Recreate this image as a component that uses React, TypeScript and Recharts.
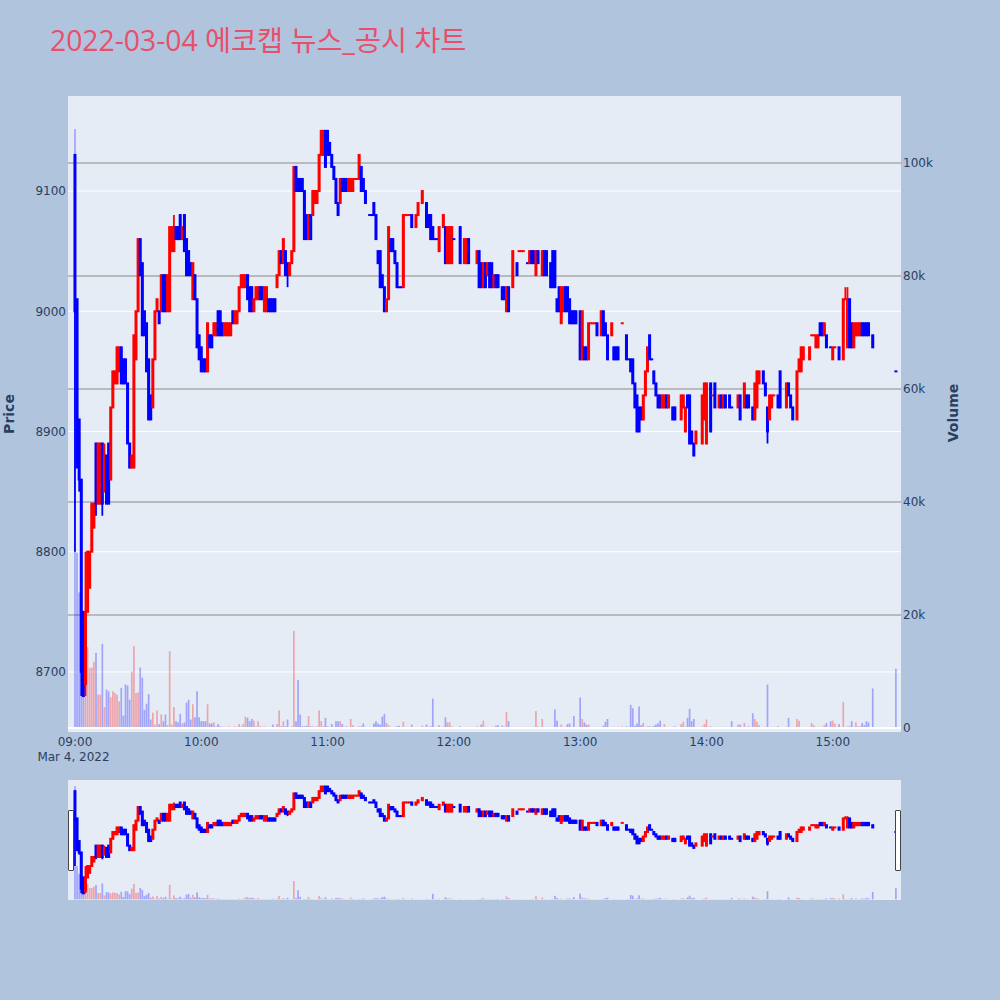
import React from "react";
import { ComposedChart, Bar, XAxis, YAxis, CartesianGrid, ReferenceLine } from "recharts";

const _ = null;

// minute index from 09:00 (0..390); null = no trade in that minute
const OPEN: (number | null)[] = [
  9130,9010,8910,8860,8750,8690,8750,8770,8800,8820,
  8890,8840,8840,8890,8850,8880,8890,8860,8920,8940,
  8940,8950,8970,8960,8960,8940,8890,8870,8870,8960,
  9000,9060,9040,9000,8990,8960,8930,8920,8960,9000,
  9000,9000,9030,9030,9000,9000,9050,9050,9070,9070,
  9080,9060,9080,9060,9050,9040,9010,9030,9010,8980,
  8970,8960,8960,8950,8980,8980,8980,8980,9000,9000,
  8990,8980,8980,8980,8980,9000,8990,8990,9000,9020,
  9020,9020,9030,9020,9020,9000,9010,9010,9020,9020,
  9000,9000,9010,9010,9010,9010,9020,9030,9050,9040,
  9050,9040,9030,9040,9050,9120,9110,9110,9110,9100,
  9080,9060,9080,9080,9090,9090,9100,9130,9130,9150,
  9150,9140,9130,9120,9110,9090,9090,9110,9110,9110,
  9100,9100,9100,9110,9110,9110,9120,9110,9100,_,
  9080,9080,9090,9080,9050,9050,9030,9020,9000,9010,
  9060,9060,9050,9040,9020,9020,9020,9080,9080,9080,
  9080,_,9070,9080,_,9090,_,9090,9080,9080,
  9070,9060,9060,9050,_,9070,9070,9040,9040,9040,
  9060,_,_,9070,_,9040,9040,9060,_,_,
  _,9040,9050,9040,9020,9040,9030,9040,9040,9020,
  9030,9030,_,9020,9020,9000,9020,_,9020,_,
  9040,9050,9050,9050,_,9040,9040,9050,9050,9030,
  9050,_,9030,9050,9050,_,9040,9050,9050,9010,
  9020,8990,9000,9020,9020,9010,9000,9000,9000,_,
  9000,8960,8970,8970,8960,8990,8990,8990,8990,_,
  8980,9000,8990,8980,_,8980,8970,8970,8970,_,
  8990,_,8980,8960,8960,8960,8940,8930,8920,8920,
  8910,8930,8950,8980,8960,8950,8940,8930,8930,8920,
  8920,8930,8920,_,8920,8920,_,_,8910,8920,
  8900,8930,8930,8900,8890,8890,_,_,8890,8910,
  8890,_,8940,8930,8940,_,8920,8930,8920,8930,
  _,8930,8920,_,_,8920,8930,_,8920,8930,
  8930,_,8920,8910,8920,8940,_,8950,8940,8920,
  8910,8920,8930,_,8930,8950,_,_,8920,8940,
  8930,8920,_,8910,8950,8950,8960,_,_,8960,
  8980,8980,8970,8970,8990,8990,8980,8980,_,8970,
  8960,8970,_,8970,_,8960,9010,8970,9010,8990,
  8970,8980,8980,8980,8990,8990,8990,8990,_,8980,
  _,_,_,_,_,_,_,_,_,_,
  8950,
];

const CLOSE: (number | null)[] = [
  9000,8870,8860,8700,8680,8750,8800,8800,8840,8840,
  8840,8890,8890,8840,8880,8840,8840,8920,8950,8950,
  8970,8970,8940,8940,8940,8890,8870,8880,8980,9000,
  9060,9030,8980,8980,8950,8910,8910,8960,9000,9010,
  8990,9030,9000,9000,9030,9070,9070,9070,9060,9060,
  9060,9070,9050,9030,9030,9030,9040,9010,8970,8960,
  8950,8950,8950,8990,8970,8970,8990,8990,8980,8980,
  8980,8990,8990,8990,8990,8990,9000,9000,9020,9030,
  9030,9030,9010,9000,9000,9010,9020,9020,9010,9010,
  9020,9020,9000,9000,9000,9000,9030,9050,9040,9060,
  9030,9030,9040,9050,9120,9100,9100,9100,9100,9060,
  9060,9080,9060,9100,9100,9100,9130,9150,9150,9120,
  9130,9130,9120,9110,9090,9080,9110,9100,9100,9100,
  9110,9110,9110,9110,9110,9130,9100,9100,9090,_,
  9080,9080,9080,9060,9040,9020,9020,9000,9010,9070,
  9050,9050,9040,9020,9020,9020,9080,9080,9080,9080,
  9070,_,9080,9090,_,9100,_,9070,9070,9060,
  9060,9060,9060,9070,_,9080,9040,9070,9070,9070,
  9060,_,_,9040,_,9060,9060,9040,_,_,
  _,9050,9020,9020,9040,9020,9040,9020,9020,9030,
  9020,9020,_,9010,9010,9020,9000,_,9050,_,
  9030,9050,9050,9050,_,9040,9050,9040,9040,9050,
  9040,_,9050,9030,9030,_,9020,9020,9020,9000,
  9000,9020,9020,9000,9000,8990,8990,8990,8990,_,
  8960,9000,8960,8960,8990,8990,8990,8990,8980,_,
  9000,8980,8980,8960,_,8990,8960,8960,8960,_,
  8990,_,8960,8960,8950,8940,8920,8900,8900,8910,
  8930,8950,8970,8960,8960,8940,8930,8920,8920,8930,
  8930,8920,8930,_,8910,8910,_,_,8930,8930,
  8920,8920,8890,8890,8880,8900,_,_,8930,8940,
  8940,_,8900,8930,8920,_,8930,8920,8930,8920,
  _,8920,8920,_,_,8930,8910,_,8940,8920,
  8920,_,8910,8940,8950,8950,_,8940,8930,8900,
  8930,8930,8930,_,8920,8920,_,_,8940,8930,
  8920,8910,_,8950,8960,8970,8970,_,_,8970,
  8980,8980,8980,8980,8980,8980,8990,8970,_,8970,
  8970,8970,_,8960,_,9010,9010,9010,8970,8970,
  8990,8990,8990,8990,8980,8980,8980,8980,_,8970,
  _,_,_,_,_,_,_,_,_,_,
  8950,
];

const VOLUME: (number | null)[] = [
  106000,31000,24000,28000,20000,12400,14300,10600,10700,11700,
  13300,5900,5900,14900,3700,6800,6500,5400,6500,6200,
  5900,4700,7100,2200,7700,7500,5000,10000,14500,6200,
  6300,10700,8900,3200,4300,6000,1500,2700,600,3100,
  700,2400,1200,2400,500,13600,600,3700,1200,1000,
  2500,800,1000,4500,5000,1500,4200,1900,6500,1900,
  1200,1200,1200,4200,800,800,1000,300,700,300,
  200,200,200,300,200,200,300,200,700,300,
  700,2000,1800,1200,1600,1300,300,1200,300,200,
  300,200,200,200,600,200,700,3100,300,1200,
  300,1500,200,300,17200,1200,8500,2400,300,300,
  400,2100,300,300,200,300,3100,1200,300,1800,
  300,200,700,200,1200,1200,1200,700,200,300,
  200,1600,500,200,200,300,300,800,200,_,
  200,200,800,1200,800,600,2000,2500,900,500,
  200,200,200,300,400,200,1100,200,200,200,
  600,_,200,200,_,400,_,600,200,300,
  5200,200,200,500,_,300,1900,1000,1000,300,
  200,_,_,300,_,200,200,200,_,_,
  _,300,200,600,1300,200,200,200,200,200,
  400,500,_,400,200,2800,1200,_,200,_,
  200,200,200,200,_,200,200,200,200,3000,
  300,_,1600,200,200,_,200,200,3300,1300,
  200,600,200,200,700,800,200,2100,200,_,
  5400,1600,1000,600,600,200,200,200,200,_,
  200,400,1100,1600,_,200,200,200,200,_,
  300,_,300,200,4100,3500,400,800,3800,500,
  900,200,300,300,200,400,600,800,1300,200,
  700,200,200,_,200,300,_,_,700,1100,
  200,1800,3400,1200,1600,200,_,_,300,700,
  1500,_,300,200,200,_,200,200,200,200,
  _,200,1200,_,_,600,600,_,900,200,
  300,_,2600,1600,1100,500,_,200,200,7700,
  200,200,200,_,300,200,_,_,200,1800,
  200,200,_,1600,1300,200,200,_,_,200,
  900,500,200,200,200,200,500,900,_,1200,
  1300,800,_,700,_,4600,200,300,300,1200,
  200,1000,300,300,900,500,1200,1000,_,7000,
  _,_,_,_,_,_,_,_,_,_,
  10500,
];

// wicks that reach beyond the candle body: [minute, price]
const HIGH_WICKS: [number, number][] = [[5, 8800], [14, 8890], [47, 9080], [366, 9020], [367, 9020]];
const LOW_WICKS: [number, number][] = [[0, 8800], [2, 8850], [3, 8680], [5, 8680], [10, 8830], [13, 8830], [101, 9020], [329, 8890]];

const PRICE_TICKS = [8700, 8800, 8900, 9000, 9100];
const VOLUME_TICKS = [0, 20000, 40000, 60000, 80000, 100000];
const TIME_TICKS = [0, 60, 120, 180, 240, 300, 360];
const TIME_LABELS = ["09:00", "10:00", "11:00", "12:00", "13:00", "14:00", "15:00"];
const DATE_LABEL = "Mar 4, 2022";
const TITLE = "2022-03-04 에코캡 뉴스_공시 차트";

const X_DOMAIN: [number, number] = [-3.33, 392.4];
const PRICE_DOMAIN: [number, number] = [8650.5, 9179];
const VOLUME_DOMAIN: [number, number] = [-620, 111850];

const UP = "#ff0000";
const DOWN = "#0000ff";
const TEXT = "#2a3f5f";
const TITLE_FONT = "'Open Sans', 'Noto Sans CJK KR', sans-serif";
const FONT = "'DejaVu Sans', Verdana, sans-serif";

const highMap = new Map(HIGH_WICKS);
const lowMap = new Map(LOW_WICKS);

type Row = { t: number; open: number; close: number; high: number; low: number; volume: number; up: boolean; range: [number, number] };

const DATA: Row[] = (() => {
  const rows: Row[] = [];
  let prevClose: number | null = null;
  let prevUp = false;
  OPEN.forEach((o, m) => {
    const c = CLOSE[m];
    if (o == null || c == null) return;
    let up: boolean;
    if (c > o) up = true;
    else if (c < o) up = false;
    else if (prevClose != null && c > prevClose) up = true;
    else if (prevClose != null && c < prevClose) up = false;
    else up = prevUp;
    const high = Math.max(o, c, highMap.get(m) ?? -Infinity);
    const low = Math.min(o, c, lowMap.get(m) ?? Infinity);
    rows.push({ t: m, open: o, close: c, high, low, volume: VOLUME[m] ?? 0, up, range: [low, high] });
    prevClose = c;
    prevUp = up;
  });
  return rows;
})();

const Candle = (props: any) => {
  const { x, y, width, height, payload } = props;
  if (x == null || y == null || payload == null || isNaN(y)) return null;
  const cx = x + width / 2;
  const top = Math.min(y, y + (height || 0));
  const h = Math.abs(height || 0);
  const { open, close, high, low, up } = payload as Row;
  const span = high - low;
  const toY = (v: number) => (span === 0 ? top : top + ((high - v) / span) * h);
  const color = up ? UP : DOWN;
  const bTop = toY(Math.max(open, close));
  const bBot = toY(Math.min(open, close));
  return (
    <g>
      <line x1={cx} x2={cx} y1={top} y2={top + h} stroke={color} strokeWidth={1.8} />
      <rect x={cx - 1.5} y={bTop - 1} width={3} height={bBot - bTop + 2} fill={color} />
    </g>
  );
};

const VolBar = (props: any) => {
  const { x, y, width, height, payload } = props;
  if (x == null || y == null || payload == null || isNaN(y)) return null;
  const cx = x + width / 2;
  const top = Math.min(y, y + height);
  return <rect x={cx - 0.85} y={top} width={1.7} height={Math.abs(height)} fill={payload.up ? UP : DOWN} fillOpacity={0.3} />;
};

const TimeTick = (props: any) => {
  const { x, y, payload } = props;
  const idx = TIME_TICKS.indexOf(payload.value);
  return (
    <text x={x} y={y} textAnchor="middle" fill={TEXT} fontSize={12} fontFamily={FONT}>
      <tspan x={x} dy="0.71em">{TIME_LABELS[idx]}</tspan>
      {payload.value === TIME_TICKS[0] ? <tspan x={x - 1.5} dy="15">{DATE_LABEL}</tspan> : null}
    </text>
  );
};

const volFmt = (v: number) => (v === 0 ? "0" : `${v / 1000}k`);

export default function App() {
  return (
    <div style={{ position: "absolute", left: 0, top: 0, width: 1000, height: 1000, background: "#B0C4DE", fontFamily: FONT, overflow: "hidden" }}>
      <div style={{ position: "absolute", left: 68, top: 96, width: 833, height: 635.5, background: "#E5ECF6" }} />
      <div style={{ position: "absolute", left: 0, top: 0 }}>
        <ComposedChart width={1000} height={780} data={DATA} margin={{ top: 96, right: 0, bottom: 20, left: 0 }}>
          <XAxis xAxisId="c" dataKey="t" type="number" domain={X_DOMAIN} allowDataOverflow ticks={TIME_TICKS} interval={0}
            tick={<TimeTick />} tickLine={false} axisLine={false} tickSize={0} tickMargin={6} height={28.5} />
          <XAxis xAxisId="v" dataKey="t" type="number" domain={X_DOMAIN} allowDataOverflow hide />
          <YAxis yAxisId="p" orientation="left" width={68} type="number" domain={PRICE_DOMAIN} allowDataOverflow ticks={PRICE_TICKS}
            tickLine={false} axisLine={false} tickSize={0} tickMargin={2} tick={{ fill: TEXT, fontSize: 12, fontFamily: FONT }} />
          <YAxis yAxisId="vol" orientation="right" width={99} type="number" domain={VOLUME_DOMAIN} allowDataOverflow ticks={VOLUME_TICKS}
            tickFormatter={volFmt} tickLine={false} axisLine={false} tickSize={0} tickMargin={2} tick={{ fill: TEXT, fontSize: 12, fontFamily: FONT }} />
          <CartesianGrid xAxisId="c" yAxisId="p" vertical={false} syncWithTicks stroke="#ffffff" strokeWidth={1} />
          <CartesianGrid xAxisId="c" yAxisId="vol" vertical={false} syncWithTicks stroke="#aaaaaa" strokeWidth={1.5} />
          <ReferenceLine xAxisId="c" yAxisId="vol" y={0} stroke="#ffffff" strokeWidth={2} />
          <Bar xAxisId="v" yAxisId="vol" dataKey="volume" barSize={2} shape={<VolBar />} isAnimationActive={false} />
          <Bar xAxisId="c" yAxisId="p" dataKey="range" barSize={2} shape={<Candle />} isAnimationActive={false} />
        </ComposedChart>
      </div>
      <div style={{ position: "absolute", left: 68, top: 780, width: 833, height: 120, background: "#E5ECF6" }}>
        <ComposedChart width={833} height={120} data={DATA} margin={{ top: 0, right: 0, bottom: 0, left: 0 }}>
          <XAxis xAxisId="c" dataKey="t" type="number" domain={X_DOMAIN} allowDataOverflow hide />
          <XAxis xAxisId="v" dataKey="t" type="number" domain={X_DOMAIN} allowDataOverflow hide />
          <YAxis yAxisId="p" type="number" domain={PRICE_DOMAIN} allowDataOverflow hide />
          <YAxis yAxisId="vol" type="number" domain={VOLUME_DOMAIN} allowDataOverflow hide />
          <Bar xAxisId="v" yAxisId="vol" dataKey="volume" barSize={2} shape={<VolBar />} isAnimationActive={false} />
          <Bar xAxisId="c" yAxisId="p" dataKey="range" barSize={2} shape={<Candle />} isAnimationActive={false} />
        </ComposedChart>
      </div>
      <div style={{ position: "absolute", left: 68, top: 810, width: 4, height: 59, background: "#fff", border: "1px solid #444", borderRadius: 1 }} />
      <div style={{ position: "absolute", left: 895, top: 810, width: 4, height: 59, background: "#fff", border: "1px solid #444", borderRadius: 1 }} />
      <svg width={1000} height={1000} style={{ position: "absolute", left: 0, top: 0, pointerEvents: "none" }}>
        <text x={50} y={51} fontSize={28.3} fill="#E8506A" fontFamily={TITLE_FONT}>{TITLE}</text>
        <text transform="translate(14,414) rotate(-90)" textAnchor="middle" fontSize={14} fontWeight="bold" fill={TEXT} fontFamily={FONT}>Price</text>
        <text transform="translate(958,413) rotate(-90)" textAnchor="middle" fontSize={14} fontWeight="bold" fill={TEXT} fontFamily={FONT}>Volume</text>
      </svg>
    </div>
  );
}
